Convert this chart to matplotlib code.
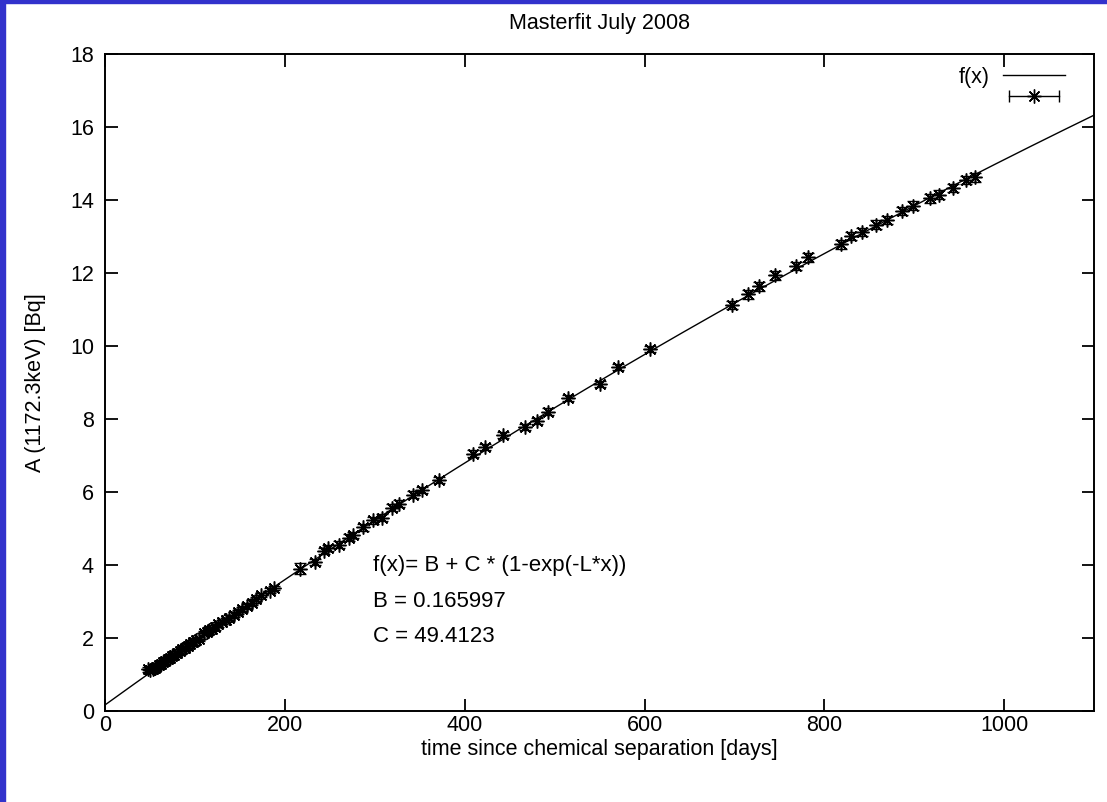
import matplotlib
matplotlib.use("Agg")
import matplotlib.pyplot as plt
from matplotlib.lines import Line2D
from matplotlib.legend_handler import HandlerLine2D, HandlerTuple
from matplotlib.patches import Rectangle
import numpy as np

plt.rcParams['font.family'] = ['Liberation Sans', 'DejaVu Sans']

# fit parameters (B, C from the plot; L = Co-60 decay constant per day)
B = 0.165997
C = 49.4123
L = 3.60e-4

# measured points: days since separation, activity [Bq], error
days = [48, 50, 53, 55, 57, 60, 62, 65, 67, 70, 72, 75, 77, 80, 83, 86, 89, 92,
        95, 98, 101, 104, 110, 113, 116, 119, 122, 126, 130, 134, 138, 143, 148,
        152, 158, 163, 168, 174, 184, 188,
        217, 234, 244, 248, 260, 271, 276, 287, 298, 308, 319, 327, 342, 352,
        371, 409, 423, 443, 467, 480, 493, 515, 551, 571, 606,
        697, 715, 727, 745, 768, 782, 818, 830, 842, 857, 870, 886, 899, 918,
        928, 943, 958, 968]
activity = [1.14, 1.12, 1.16, 1.19, 1.20, 1.26, 1.30, 1.35, 1.36, 1.43, 1.46, 1.50,
            1.54, 1.59, 1.63, 1.69, 1.72, 1.79, 1.83, 1.88, 1.94, 1.98,
            2.13, 2.17, 2.21, 2.25, 2.29, 2.37, 2.43, 2.49, 2.56, 2.64, 2.72,
            2.79, 2.88, 2.97, 3.06, 3.17, 3.30, 3.37,
            3.90, 4.08, 4.38, 4.47, 4.56, 4.75, 4.82, 5.03, 5.22, 5.30, 5.57,
            5.68, 5.93, 6.05, 6.33, 7.05, 7.23, 7.56, 7.78, 7.95, 8.20, 8.57,
            8.96, 9.42, 9.92,
            11.12, 11.42, 11.63, 11.94, 12.19, 12.43, 12.79, 13.01, 13.12,
            13.32, 13.45, 13.70, 13.84, 14.05, 14.14, 14.33, 14.55, 14.62]
errors = [0.06] * 40 + [0.15] + [0.09] * 24 + [0.12] * 18

fs = 15.5

fig = plt.figure(figsize=(11.07, 8.02), dpi=100)
fig.patches.append(Rectangle((0, 0), 5 / 1107, 1, transform=fig.transFigure,
                             color='#3232cc', zorder=10))
fig.patches.append(Rectangle((0, 1 - 3 / 802), 1, 3 / 802, transform=fig.transFigure,
                             color='#3232cc', zorder=10))

ax = fig.add_axes([0.0949, 0.1135, 0.8934, 0.8192])

xs = np.linspace(0, 1100, 400)
fit, = ax.plot(xs, B + C * (1 - np.exp(-L * xs)), color='black', lw=1.0)

star = (8, 2, 0)
ax.errorbar(days, activity, yerr=errors, fmt='none', ecolor='black',
            elinewidth=1.0, capsize=4.5, capthick=1.0)
ax.plot(days, activity, linestyle='none', marker=star, markersize=10,
        markeredgewidth=1.1, color='black')

ax.set_xlim(0, 1100)
ax.set_ylim(0, 18)
ax.set_xticks([0, 200, 400, 600, 800, 1000])
ax.set_yticks(range(0, 19, 2))
ax.tick_params(direction='in', length=9, width=1.3, top=True, right=True,
               labelsize=fs)
ax.tick_params(axis='x', pad=3)
ax.tick_params(axis='y', pad=8)
for s in ax.spines.values():
    s.set_linewidth(1.4)

ax.set_title('Masterfit July 2008', fontsize=fs, pad=18)
ax.set_xlabel('time since chemical separation [days]', fontsize=fs, labelpad=2)
ax.set_ylabel('A (1172.3keV) [Bq]', fontsize=fs, labelpad=17)

ax.text(298, 3.98, 'f(x)= B + C * (1-exp(-L*x))', fontsize=16, va='center')
ax.text(298, 2.99, 'B = 0.165997', fontsize=16, va='center')
ax.text(298, 2.03, 'C = 49.4123', fontsize=16, va='center')

# legend sample: horizontal bar with end caps and an asterisk in the middle
bar = Line2D([], [], color='black', lw=1.0, marker='|', markersize=8)
pt = Line2D([], [], color='black', linestyle='none', marker=star, markersize=10)
ax.legend([fit, (bar, pt)], ['f(x)', ''], loc='upper right', frameon=False,
          markerfirst=False, fontsize=fs, handlelength=2.9, handletextpad=0.6,
          borderaxespad=0.2, labelspacing=0.0, bbox_to_anchor=(0.984, 1.0),
          handler_map={bar: HandlerLine2D(numpoints=2),
                       pt: HandlerLine2D(numpoints=1),
                       tuple: HandlerTuple(ndivide=1)})

fig.savefig('out.png', dpi=100)
